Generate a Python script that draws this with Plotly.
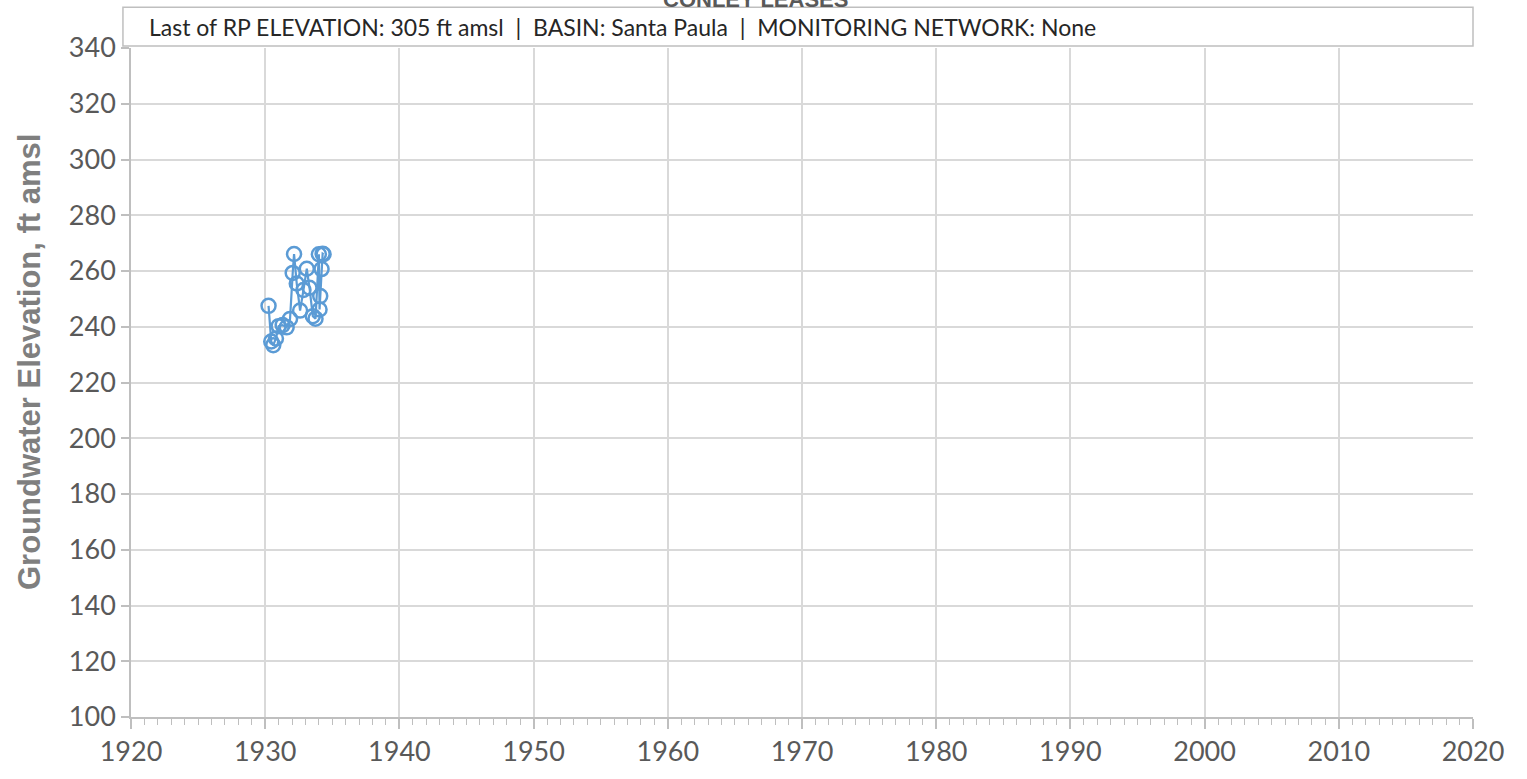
import plotly.graph_objects as go

# --- data ---
years = [1930.25, 1930.45, 1930.6, 1930.8, 1931.0, 1931.3, 1931.6, 1931.85,
         1932.05, 1932.15, 1932.35, 1932.6, 1932.85, 1933.1, 1933.3, 1933.55,
         1933.75, 1934.0, 1934.05, 1934.1, 1934.2, 1934.28, 1934.35]
elev = [247.5, 234.7, 233.4, 235.8, 240.2, 240.6, 239.8, 242.8,
        259.3, 266.1, 255.5, 245.8, 253.2, 260.8, 254.0, 243.8,
        242.9, 266.0, 246.2, 251.0, 260.7, 266.2, 266.0]

x_ticks = [1920, 1930, 1940, 1950, 1960, 1970, 1980, 1990, 2000, 2010, 2020]
y_ticks = [100, 120, 140, 160, 180, 200, 220, 240, 260, 280, 300, 320, 340]

title_text = "CONLEY LEASES"
sep = "\u00a0\u00a0|\u00a0\u00a0"
info_text = "Last of RP ELEVATION: 305 ft amsl" + sep + "BASIN: Santa Paula" + sep + "MONITORING NETWORK: None"
y_title = "Groundwater Elevation, ft amsl"

blue = "#5B9BD5"
grid = "#d9d9d9"
tickc = "#595959"

fig = go.Figure()
fig.add_trace(go.Scatter(
    x=years, y=elev, mode="lines+markers",
    line=dict(color=blue, width=2.2),
    marker=dict(symbol="circle-open", size=14, color=blue, line=dict(width=2.5, color=blue)),
    showlegend=False, hoverinfo="x+y",
))

fig.update_layout(
    width=1527, height=779,
    margin=dict(l=131, r=54, t=48, b=60),
    paper_bgcolor="white", plot_bgcolor="white",
    font=dict(family="Lato", color=tickc),
    xaxis=dict(
        range=[1920, 2020], tickvals=x_ticks, ticktext=[str(v) for v in x_ticks],
        showgrid=True, gridcolor=grid, gridwidth=1.5,
        showline=True, linecolor="#bfbfbf", linewidth=1.5,
        ticks="outside", ticklen=10, tickcolor="#bfbfbf", tickwidth=1.5,
        tickfont=dict(family="Lato", size=27, color=tickc),
        minor=dict(dtick=1, tick0=1920, ticks="outside", ticklen=6, tickcolor="#bfbfbf",
                   tickwidth=1, showgrid=False),
        zeroline=False,
    ),
    yaxis=dict(
        range=[100, 340], tickvals=y_ticks,
        showgrid=True, gridcolor=grid, gridwidth=1.5,
        showline=True, linecolor="#bfbfbf", linewidth=1.5,
        ticks="outside", ticklen=8, tickcolor="#bfbfbf", tickwidth=1.5,
        tickfont=dict(family="Lato", size=27, color=tickc),
        zeroline=False,
    ),
)

# y-axis title placed as an annotation to match reference position
fig.add_annotation(
    xref="paper", yref="paper", x=-0.076, y=0.5306, xanchor="center", yanchor="middle",
    text="<b>" + y_title + "</b>", showarrow=False, textangle=-90,
    font=dict(family="Liberation Sans", size=31, color="#7f7f7f"),
)

fig.add_annotation(
    xref="paper", yref="paper", x=0.465, y=1.073, xanchor="center", yanchor="middle",
    text="<b>" + title_text + "</b>", showarrow=False,
    font=dict(family="Liberation Sans", size=22, color=tickc),
)

fig.add_shape(type="rect", xref="paper", yref="paper",
              x0=-0.006, x1=1.0, y0=1.003, y1=1.061,
              line=dict(color="#bfbfbf", width=1.5), fillcolor="white", layer="above")
fig.add_annotation(
    xref="paper", yref="paper", x=0.012, y=1.032, xanchor="left", yanchor="middle",
    text=info_text, showarrow=False,
    font=dict(family="Lato", size=23, color="#262626"),
)

fig.write_html("out.html", config={"displayModeBar": False},
               post_script="document.body.style.margin='0';")
